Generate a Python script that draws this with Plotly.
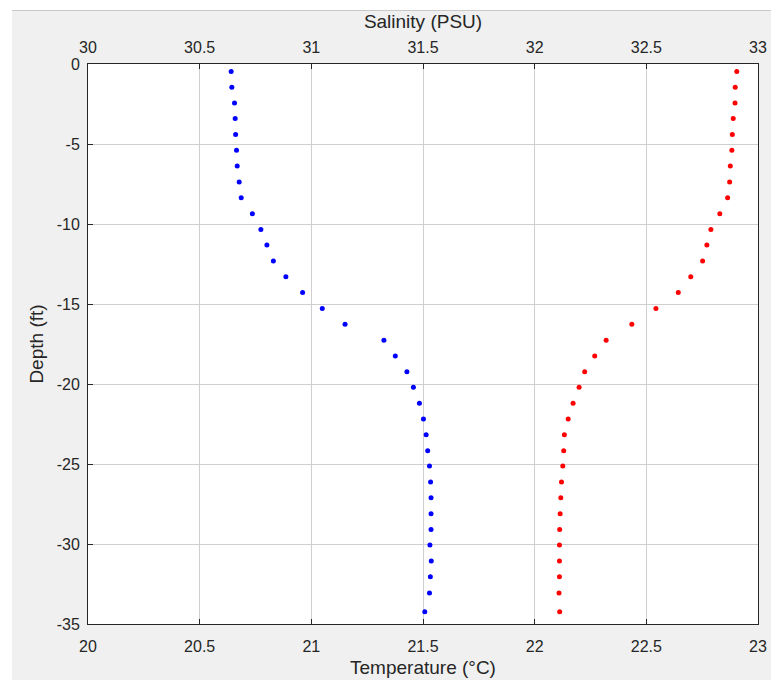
import plotly.graph_objects as go

# ---- data ----
depth_ft = [-0.47, -1.45, -2.43, -3.41, -4.41, -5.39, -6.38, -7.38, -8.36, -9.36,
            -10.34, -11.32, -12.32, -13.30, -14.28, -15.28, -16.26, -17.27, -18.25, -19.23,
            -20.21, -21.21, -22.19, -23.17, -24.17, -25.13, -26.13, -27.11, -28.11, -29.09,
            -30.07, -31.07, -32.05, -33.06, -34.24]

salinity_psu = [30.641, 30.644, 30.656, 30.659, 30.661, 30.665, 30.668, 30.677, 30.686, 30.736,
                30.774, 30.801, 30.830, 30.886, 30.961, 31.049, 31.151, 31.325, 31.376, 31.428,
                31.457, 31.484, 31.502, 31.514, 31.521, 31.529, 31.534, 31.536, 31.536, 31.536,
                31.531, 31.537, 31.533, 31.529, 31.508]

temperature_c = [22.905, 22.898, 22.897, 22.889, 22.885, 22.883, 22.876, 22.873, 22.864, 22.829,
                 22.789, 22.771, 22.752, 22.699, 22.643, 22.543, 22.435, 22.320, 22.269, 22.224,
                 22.199, 22.172, 22.150, 22.133, 22.130, 22.126, 22.120, 22.117, 22.114, 22.112,
                 22.111, 22.111, 22.111, 22.109, 22.112]

temp_ticks = [20, 20.5, 21, 21.5, 22, 22.5, 23]
temp_ticktext = ["20", "20.5", "21", "21.5", "22", "22.5", "23"]
sal_ticks = [30, 30.5, 31, 31.5, 32, 32.5, 33]
sal_ticktext = ["30", "30.5", "31", "31.5", "32", "32.5", "33"]
depth_ticks = [0, -5, -10, -15, -20, -25, -30, -35]
depth_ticktext = ["0", "-5", "-10", "-15", "-20", "-25", "-30", "-35"]

# ---- layout geometry ----
W, H = 771, 680
L, R, T, B = 88, 13, 64, 56
pw, ph = W - L - R, H - T - B

def px_x(p):
    return (p - L) / pw

def px_y(p):
    return (H - B - p) / ph

FONT = "Liberation Sans, Arial, sans-serif"
TXT = "#262626"
AX = "#262626"
GRID = "#cfcfcf"

fig = go.Figure()
fig.add_trace(go.Scatter(x=temperature_c, y=depth_ft, mode="markers",
                         marker=dict(color="#ff0000", size=5, line=dict(width=0)),
                         xaxis="x", yaxis="y", showlegend=False))
fig.add_trace(go.Scatter(x=salinity_psu, y=depth_ft, mode="markers",
                         marker=dict(color="#0000ff", size=5, line=dict(width=0)),
                         xaxis="x2", yaxis="y", showlegend=False))

fig.update_layout(
    template="none",
    width=W, height=H, autosize=False,
    margin=dict(l=L, r=R, t=T, b=B, pad=0),
    paper_bgcolor="white", plot_bgcolor="white",
    font=dict(family=FONT, size=16, color=TXT),
    xaxis=dict(range=[20, 23], tickvals=temp_ticks, ticktext=temp_ticktext,
               automargin=False,
               showgrid=True, gridcolor=GRID, gridwidth=1, zeroline=False,
               showline=True, linecolor=AX, linewidth=1, mirror=True,
               ticks="inside", ticklen=5, tickcolor=AX,
               tickfont=dict(size=16, color=TXT), ticklabelstandoff=8,
               title=dict(text="Temperature (°C)", font=dict(size=19, color=TXT), standoff=6)),
    xaxis2=dict(range=[30, 33], tickvals=sal_ticks, ticktext=sal_ticktext,
                overlaying="x", side="top", anchor="y", automargin=False,
                showgrid=False, zeroline=False,
                showline=True, linecolor=AX, linewidth=1,
                ticks="inside", ticklen=5, tickcolor=AX,
                tickfont=dict(size=16, color=TXT), ticklabelstandoff=4,
                title=dict(text="Salinity (PSU)", font=dict(size=19, color=TXT), standoff=4)),
    yaxis=dict(range=[-35, 0], tickvals=depth_ticks, ticktext=depth_ticktext,
               automargin=False,
               showgrid=True, gridcolor=GRID, gridwidth=1, zeroline=False,
               showline=True, linecolor=AX, linewidth=1, mirror=True,
               ticks="inside", ticklen=5, tickcolor=AX,
               tickfont=dict(size=16, color=TXT), ticklabelstandoff=4,
               title=dict(text="Depth (ft)", font=dict(size=19, color=TXT), standoff=8)),
    shapes=[
        dict(type="rect", xref="paper", yref="paper", layer="below",
             x0=px_x(12), x1=px_x(W + 2), y0=px_y(H + 2), y1=px_y(10),
             fillcolor="#f0f0f0", line=dict(width=0)),
        dict(type="line", xref="paper", yref="paper", layer="below",
             x0=px_x(12), x1=px_x(W + 2), y0=px_y(10.5), y1=px_y(10.5),
             line=dict(color="#c8c8c8", width=1)),
        dict(type="rect", xref="paper", yref="paper", layer="below",
             x0=0, x1=1, y0=0, y1=1, fillcolor="white", line=dict(width=0)),
    ],
)

fig.write_html("out.html")
